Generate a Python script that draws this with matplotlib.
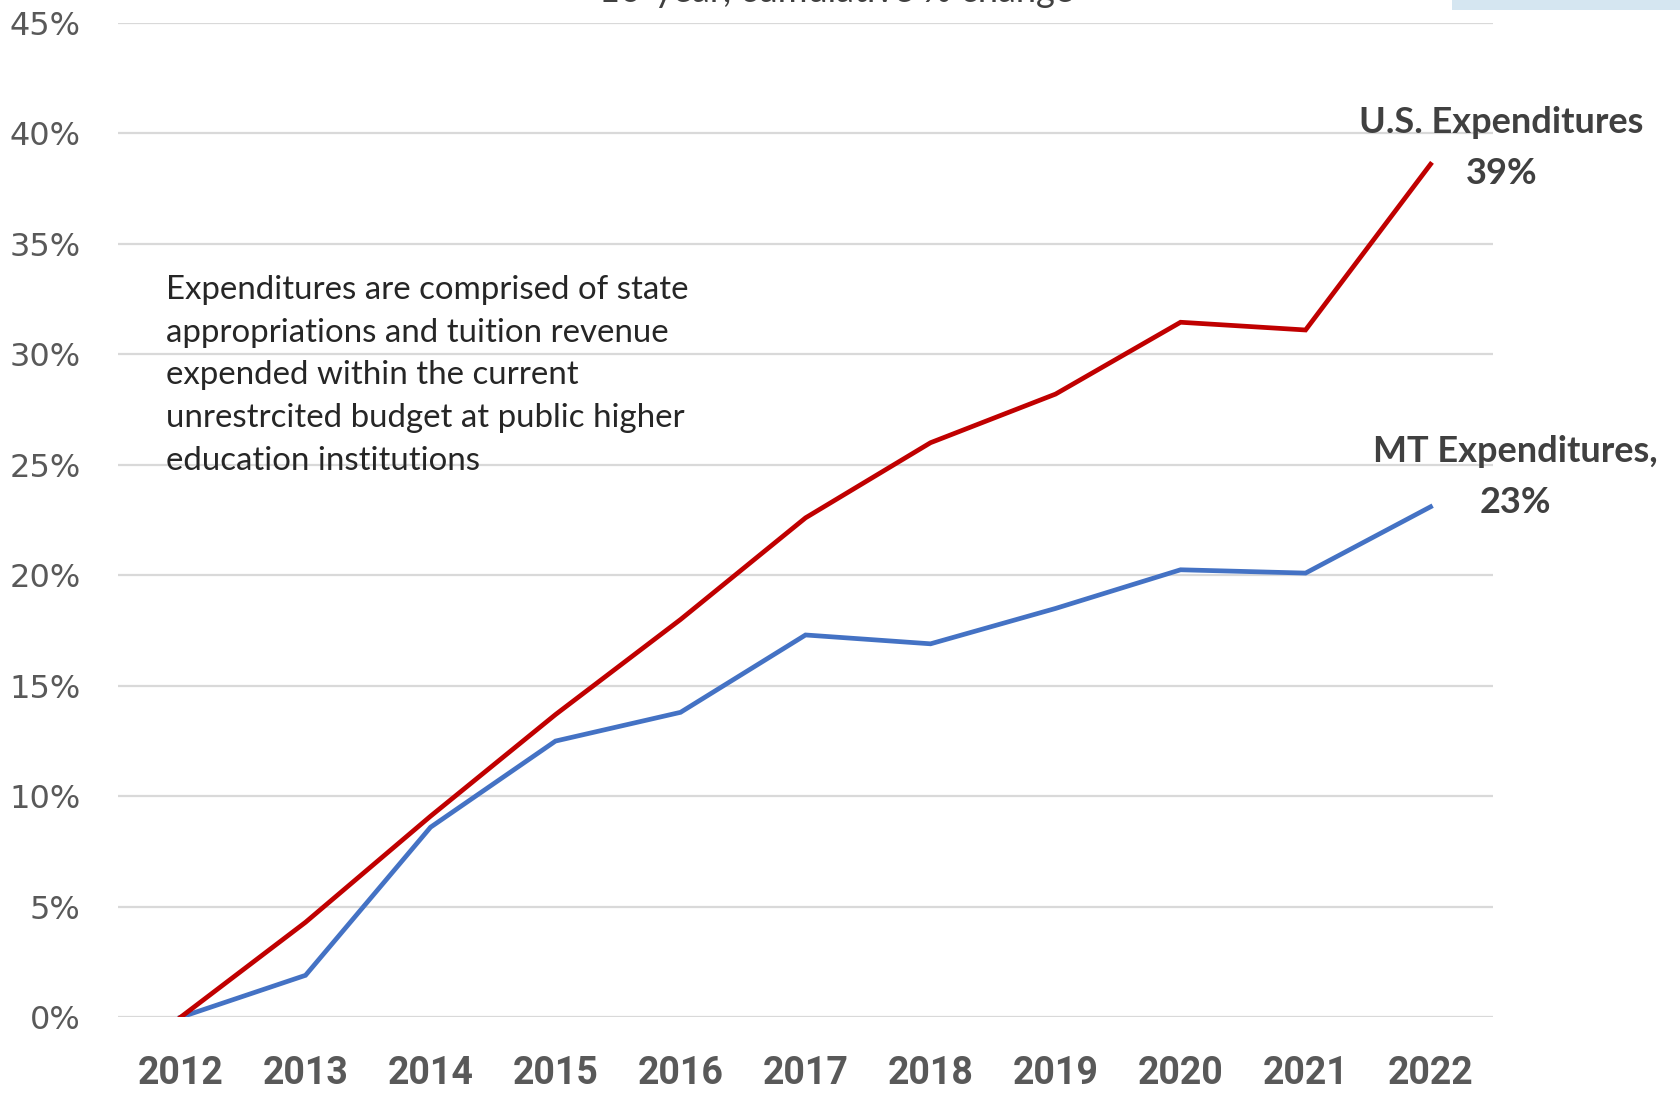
import matplotlib
matplotlib.use("Agg")
import matplotlib.pyplot as plt
from matplotlib.patches import Rectangle
from matplotlib.ticker import FuncFormatter

# ---------------------------------------------------------------------------
# Data (cumulative % change since 2012)
# ---------------------------------------------------------------------------
years = ["2012", "2013", "2014", "2015", "2016", "2017",
         "2018", "2019", "2020", "2021", "2022"]
us_expend = [0.0, 4.3, 9.1, 13.7, 18.0, 22.6, 26.0, 28.2, 31.45, 31.1, 38.6]
mt_expend = [0.0, 1.9, 8.6, 12.5, 13.8, 17.3, 16.9, 18.5, 20.25, 20.1, 23.1]
y_ticks = [0, 5, 10, 15, 20, 25, 30, 35, 40, 45]

title = "10-year, cumulative % change"
note = ("Expenditures are comprised of state\n"
        "appropriations and tuition revenue\n"
        "expended within the current\n"
        "unrestrcited budget at public higher\n"
        "education institutions")

RED = "#C00000"
BLUE = "#4472C4"
GRID = "#D9D9D9"
TICK = "#595959"
LABEL = "#404040"

fig = plt.figure(figsize=(16.81, 10.96), dpi=100)
ax = fig.add_axes([0.0702, 0.0718, 0.818, 0.9074])

x = list(range(len(years)))
ax.plot(x, mt_expend, color=BLUE, linewidth=3.4, solid_joinstyle="miter", zorder=3)
ax.plot(x, us_expend, color=RED, linewidth=3.4, solid_joinstyle="miter", zorder=4)

ax.set_xlim(-0.5, len(years) - 0.5)
ax.set_ylim(0, 45)
ax.set_yticks(y_ticks)
ax.yaxis.set_major_formatter(FuncFormatter(lambda v, _: f"{v:.0f}%"))
ax.set_xticks(x)
ax.set_xticklabels(years)

ax.grid(axis="y", color=GRID, linewidth=1.6, zorder=0)
ax.set_axisbelow(True)
for s in ax.spines.values():
    s.set_visible(False)
ax.tick_params(axis="both", length=0)
ax.tick_params(axis="y", pad=27, labelsize=23, labelcolor=TICK)
ax.tick_params(axis="x", pad=27, labelcolor=TICK)
for lbl in ax.get_yticklabels():
    lbl.set_family(["DejaVu Sans"])
for lbl in ax.get_xticklabels():
    lbl.set_family(["Liberation Sans Narrow", "Roboto"])
    lbl.set_fontweight("bold")
    lbl.set_fontsize(27)

# explanatory note
ax.text(-0.115, 29.05, note, ha="left", va="center", fontsize=23.8,
        family=["Lato", "DejaVu Sans"], color="#262626", linespacing=1.53)

# end-of-line labels
lab_kw = dict(ha="center", va="center", fontsize=26, fontweight="bold",
              family=["Lato", "DejaVu Sans"], color=LABEL, clip_on=False)
ax.text(10.565, 40.5, "U.S. Expenditures", **lab_kw)
ax.text(10.565, 38.2, f"{us_expend[-1]:.0f}%", **lab_kw)
ax.text(10.68, 25.6, "MT Expenditures,", **lab_kw)
ax.text(10.68, 23.3, f"{mt_expend[-1]:.0f}%", **lab_kw)

# title, cut off at the top edge of the image (as in the source)
fig.text(836 / 1681, 1 - 2 / 1096, title, ha="center", va="baseline",
         fontsize=26, family=["Lato", "DejaVu Sans"], color=LABEL)

# light blue strip in the top right corner
fig.patches.append(Rectangle((1452 / 1681, 1 - 10 / 1096), 1, 10 / 1096,
                             transform=fig.transFigure, facecolor="#D5E6F1",
                             edgecolor="none"))

fig.savefig("out.png", dpi=100)
plt.close(fig)
